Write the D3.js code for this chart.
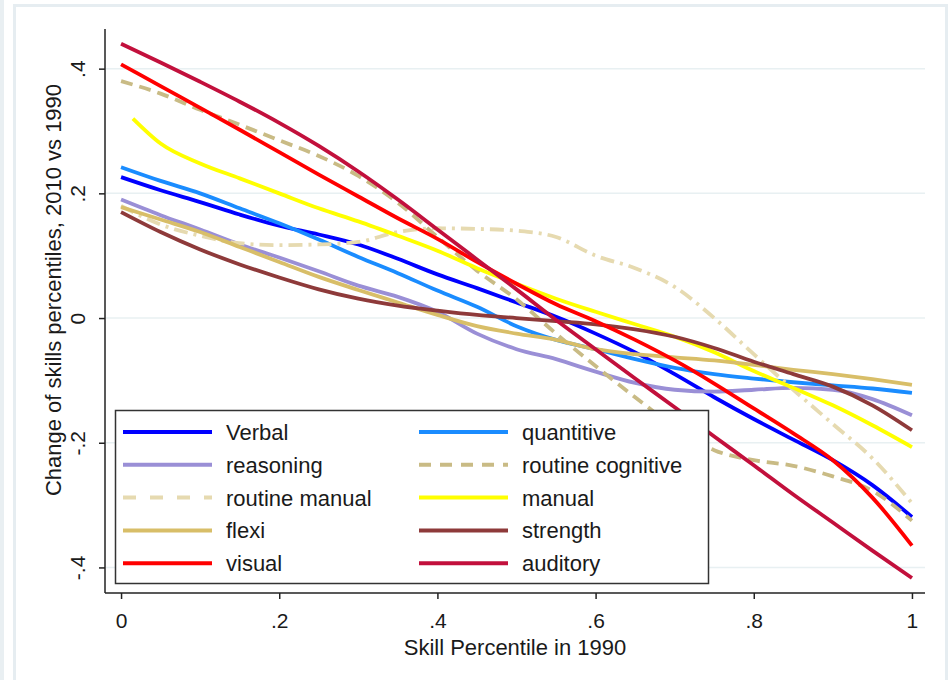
<!DOCTYPE html>
<html>
<head>
<meta charset="utf-8">
<script src="https://cdn.jsdelivr.net/npm/d3@7"></script>
<style>
  body { margin: 0; background: #fff; }
  text { font-family: "Liberation Sans", Arial, sans-serif; fill: #1a1a1a; }
</style>
</head>
<body>
<div class="chart"></div>
<script>
// skill percentile grid (x values)
var xs = [0, .05, .1, .15, .2, .25, .3, .35, .4, .45, .5, .55, .6, .65, .7, .75, .8, .85, .9, .95, 1];
var xsManual = [.015, .05, .1, .15, .2, .25, .3, .35, .4, .45, .5, .55, .6, .65, .7, .75, .8, .85, .9, .95, 1];

// change of skill percentiles
var verbal      = [.226, .205, .186, .166, .148, .134, .118, .095, .07, .048, .025, .002, -.025, -.055, -.09, -.127, -.162, -.195, -.228, -.268, -.319];
var quantitive  = [.242, .22, .2, .176, .152, .126, .098, .072, .044, .018, -.013, -.035, -.05, -.066, -.08, -.09, -.097, -.103, -.108, -.113, -.12];
var reasoning   = [.19, .165, .142, .118, .097, .075, .052, .034, .01, -.025, -.05, -.066, -.086, -.104, -.115, -.118, -.115, -.112, -.115, -.13, -.156];
var routineCog  = [.38, .36, .334, .31, .285, .26, .228, .185, .13, .076, .03, -.025, -.077, -.127, -.175, -.212, -.228, -.237, -.254, -.277, -.325];
var routineMan  = [.18, .15, .132, .12, .117, .118, .122, .138, .144, .143, .14, .13, .1, .08, .05, .0, -.058, -.115, -.17, -.225, -.297];
var manual      = [.32, .28, .248, .224, .2, .176, .155, .132, .108, .08, .055, .031, .01, -.01, -.03, -.055, -.085, -.112, -.14, -.172, -.207];
var flexi       = [.178, .158, .138, .114, .09, .066, .045, .025, .005, -.013, -.025, -.035, -.05, -.058, -.063, -.068, -.075, -.083, -.09, -.098, -.107];
var strength    = [.17, .138, .11, .086, .065, .046, .031, .02, .012, .005, 0, -.005, -.01, -.018, -.03, -.048, -.07, -.09, -.11, -.14, -.18];
var visual      = [.407, .372, .337, .302, .266, .23, .195, .16, .127, .09, .055, .022, -.005, -.035, -.068, -.105, -.145, -.185, -.228, -.288, -.365];
var auditory    = [.44, .41, .379, .347, .313, .276, .235, .19, .142, .094, .046, -.003, -.05, -.097, -.143, -.19, -.236, -.283, -.328, -.373, -.417];

var yTicks = [-.4, -.2, 0, .2, .4];
var yTickLabels = ["-.4", "-.2", "0", ".2", ".4"];
var xTicks = [0, .2, .4, .6, .8, 1];
var xTickLabels = ["0", ".2", ".4", ".6", ".8", "1"];

var series = [
  {name: "Verbal",            x: xs,       y: verbal,     color: "#0000ff", dash: null},
  {name: "quantitive",        x: xs,       y: quantitive, color: "#1a8cff", dash: null},
  {name: "reasoning",         x: xs,       y: reasoning,  color: "#9a8fd6", dash: null},
  {name: "routine cognitive", x: xs,       y: routineCog, color: "#c9bb85", dash: "12,7"},
  {name: "routine manual",    x: xs,       y: routineMan, color: "#e6dab0", dash: "14,6,3,6"},
  {name: "manual",            x: xsManual, y: manual,     color: "#ffff00", dash: null},
  {name: "flexi",             x: xs,       y: flexi,      color: "#d8be68", dash: null},
  {name: "strength",          x: xs,       y: strength,   color: "#8e3a3a", dash: null},
  {name: "visual",            x: xs,       y: visual,     color: "#ff0000", dash: null},
  {name: "auditory",          x: xs,       y: auditory,   color: "#c2103c", dash: null}
];

var width = 949, height = 680;

var svg = d3.select(".chart")
  .append("svg")
  .attr("width", width)
  .attr("height", height);

// window frame
svg.append("rect").attr("x", 0).attr("y", 0).attr("width", 4).attr("height", height).attr("fill", "#e9eff2");
svg.append("rect")
  .attr("x", 14.5).attr("y", 5.5)
  .attr("width", 932).attr("height", 690)
  .attr("fill", "none")
  .attr("stroke", "#e6edf1")
  .attr("stroke-width", 3);

// scales
var x = d3.scaleLinear().domain([-0.0203, 1.0165]).range([105, 925]);
var y = d3.scaleLinear().domain([-0.441, 0.4636]).range([593, 29]);

// gridlines
svg.append("g")
  .selectAll("line")
  .data(yTicks)
  .enter()
  .append("line")
  .attr("x1", 106).attr("x2", 925)
  .attr("y1", function(d) { return y(d); })
  .attr("y2", function(d) { return y(d); })
  .attr("stroke", "#e8f0f2")
  .attr("stroke-width", 1.5);

// lines
var line = d3.line()
  .x(function(d) { return x(d[0]); })
  .y(function(d) { return y(d[1]); })
  .curve(d3.curveMonotoneX);

svg.append("g")
  .selectAll("path")
  .data(series)
  .enter()
  .append("path")
  .attr("d", function(s) { return line(d3.zip(s.x, s.y)); })
  .attr("fill", "none")
  .attr("stroke", function(s) { return s.color; })
  .attr("stroke-width", 3.8)
  .attr("stroke-dasharray", function(s) { return s.dash; });

// axes
var yAxis = d3.axisLeft(y).tickValues(yTicks).tickSize(6)
  .tickFormat(function(d, i) { return yTickLabels[i]; });
var gy = svg.append("g").attr("transform", "translate(105,0)").call(yAxis);
gy.select(".domain").attr("d", "M0," + y.range()[1] + "V" + y.range()[0]);

var xAxis = d3.axisBottom(x).tickValues(xTicks).tickSize(6)
  .tickFormat(function(d, i) { return xTickLabels[i]; });
var gx = svg.append("g").attr("transform", "translate(0,593)").call(xAxis);
gx.select(".domain").attr("d", "M" + x.range()[0] + ",0H" + x.range()[1]);

[gx, gy].forEach(function(g) {
  g.selectAll(".domain").attr("stroke", "#222").attr("stroke-width", 1.5);
  g.selectAll(".tick line").attr("stroke", "#222").attr("stroke-width", 1.5);
  g.selectAll("text").style("font-size", "21px").attr("fill", "#1a1a1a")
    .style("font-family", "'Liberation Sans', Arial, sans-serif");
});
gx.selectAll(".tick text").attr("y", 0).attr("dy", 0)
  .attr("transform", "translate(0,35)");
gy.selectAll(".tick text")
  .attr("x", 0).attr("dy", 0)
  .attr("text-anchor", "middle")
  .attr("transform", "translate(-20,0) rotate(-90)");

// axis titles
svg.append("text")
  .attr("x", 515).attr("y", 655)
  .attr("text-anchor", "middle")
  .style("font-size", "22px")
  .text("Skill Percentile in 1990");

svg.append("text")
  .attr("transform", "translate(61,290) rotate(-90)")
  .attr("text-anchor", "middle")
  .style("font-size", "22px")
  .text("Change of skills percentiles, 2010 vs 1990");

// legend
var legend = svg.append("g");
legend.append("rect")
  .attr("x", 115.5).attr("y", 410.5)
  .attr("width", 593).attr("height", 173)
  .attr("fill", "#fff")
  .attr("stroke", "#333")
  .attr("stroke-width", 1.5);

var items = legend.selectAll("g.item")
  .data(series)
  .enter()
  .append("g")
  .attr("class", "item")
  .attr("transform", function(d, i) {
    var col = i % 2, row = Math.floor(i / 2);
    return "translate(" + (col ? 419 : 123) + "," + (432 + row * 32.8) + ")";
  });

items.append("line")
  .attr("x1", 0).attr("x2", 89)
  .attr("stroke", function(d) { return d.color; })
  .attr("stroke-width", 4)
  .attr("stroke-dasharray", function(d) {
    return d.dash ? (d.name == "routine manual" ? "13,14" : "12,9") : null;
  });

items.append("text")
  .attr("x", 103).attr("y", 8)
  .style("font-size", "22px")
  .text(function(d) { return d.name; });
</script>
</body>
</html>
